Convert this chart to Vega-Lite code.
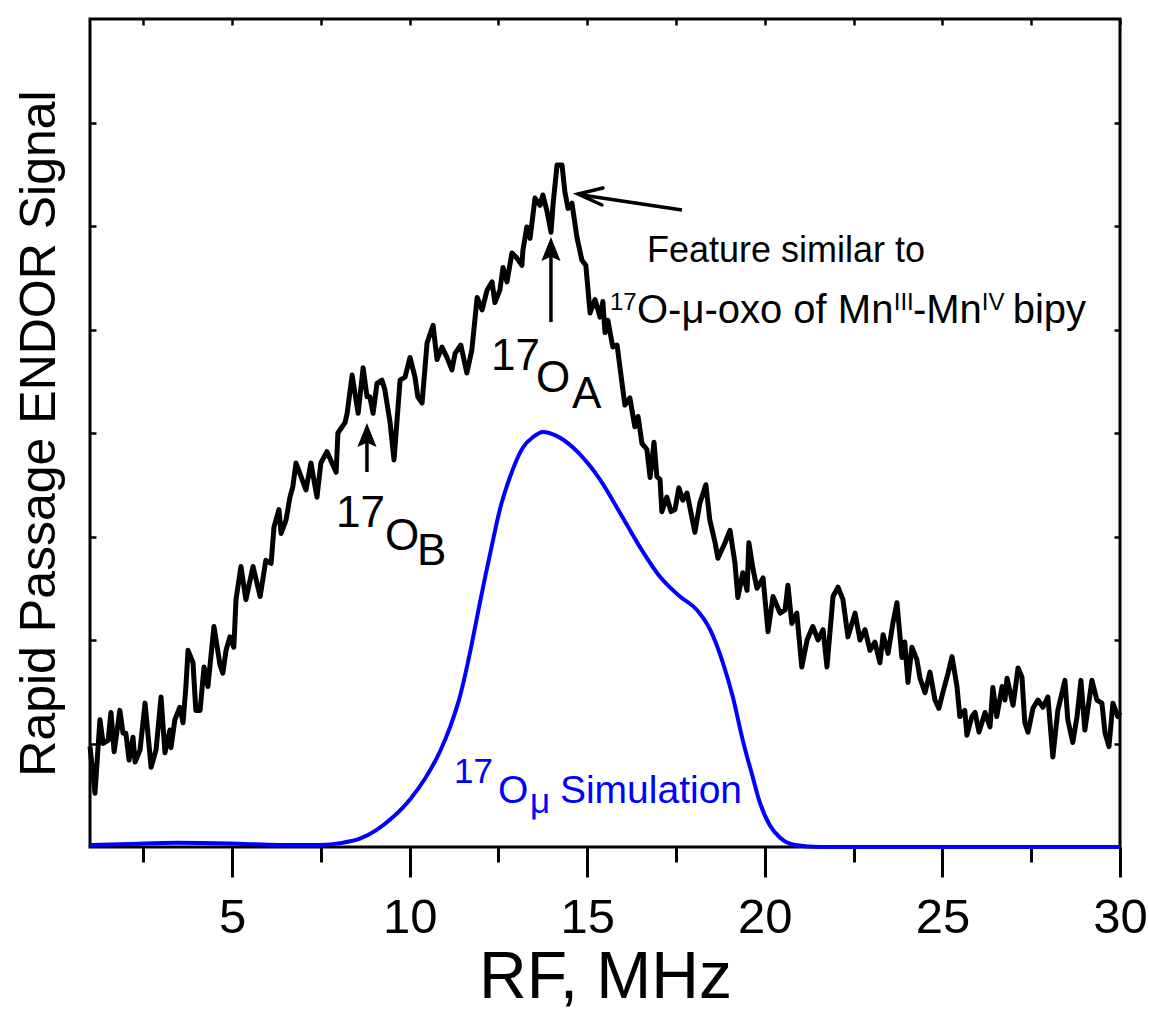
{
  "$schema": "https://vega.github.io/schema/vega-lite/v6.json",
  "width": 1030,
  "height": 828,
  "autosize": {"type": "none"},
  "padding": {"left": 90, "top": 19, "right": 29, "bottom": 164},
  "background": "white",
  "config": {
    "view": {"stroke": "black", "strokeWidth": 3},
    "font": "Liberation Sans",
    "axis": {"grid": false, "domain": false, "tickColor": "black", "labelColor": "black", "titleColor": "black", "titleFontWeight": "normal", "labelFont": "Liberation Sans", "titleFont": "Liberation Sans"}
  },
  "datasets": {
    "spectrum": [
      {"f":1.00,"s":0.97},{"f":1.14,"s":0.52},{"f":1.28,"s":1.23},{"f":1.37,"s":1.00},{"f":1.51,"s":1.03},{"f":1.59,"s":1.30},{"f":1.68,"s":0.92},{"f":1.84,"s":1.32},{"f":1.93,"s":1.10},{"f":2.01,"s":1.10},{"f":2.10,"s":0.84},{"f":2.21,"s":1.06},{"f":2.27,"s":0.82},{"f":2.41,"s":0.94},{"f":2.55,"s":1.39},{"f":2.72,"s":0.77},{"f":2.86,"s":0.94},{"f":3.00,"s":1.45},{"f":3.11,"s":0.91},{"f":3.25,"s":1.13},{"f":3.28,"s":0.96},{"f":3.39,"s":1.23},{"f":3.53,"s":1.35},{"f":3.62,"s":1.20},{"f":3.70,"s":1.55},{"f":3.76,"s":1.90},{"f":3.90,"s":1.78},{"f":3.98,"s":1.32},{"f":4.10,"s":1.32},{"f":4.21,"s":1.74},{"f":4.32,"s":1.55},{"f":4.49,"s":2.13},{"f":4.66,"s":1.76},{"f":4.74,"s":1.68},{"f":4.83,"s":1.90},{"f":4.94,"s":2.03},{"f":5.05,"s":1.93},{"f":5.11,"s":2.39},{"f":5.25,"s":2.71},{"f":5.39,"s":2.39},{"f":5.59,"s":2.71},{"f":5.79,"s":2.42},{"f":5.95,"s":2.77},{"f":6.10,"s":2.74},{"f":6.18,"s":3.09},{"f":6.32,"s":3.26},{"f":6.38,"s":3.03},{"f":6.52,"s":3.16},{"f":6.63,"s":3.38},{"f":6.71,"s":3.48},{"f":6.80,"s":3.71},{"f":7.08,"s":3.45},{"f":7.22,"s":3.71},{"f":7.39,"s":3.38},{"f":7.50,"s":3.71},{"f":7.67,"s":3.82},{"f":7.93,"s":3.62},{"f":7.98,"s":4.00},{"f":8.18,"s":4.10},{"f":8.24,"s":4.19},{"f":8.38,"s":4.56},{"f":8.55,"s":4.19},{"f":8.69,"s":4.63},{"f":8.80,"s":4.35},{"f":8.88,"s":4.35},{"f":8.97,"s":4.19},{"f":9.08,"s":4.48},{"f":9.22,"s":4.51},{"f":9.30,"s":4.42},{"f":9.45,"s":4.10},{"f":9.56,"s":3.74},{"f":9.73,"s":4.51},{"f":9.87,"s":4.54},{"f":10.01,"s":4.73},{"f":10.15,"s":4.54},{"f":10.23,"s":4.35},{"f":10.35,"s":4.29},{"f":10.49,"s":4.87},{"f":10.66,"s":5.04},{"f":10.77,"s":4.71},{"f":10.91,"s":4.83},{"f":11.05,"s":4.73},{"f":11.19,"s":4.61},{"f":11.28,"s":4.77},{"f":11.44,"s":4.85},{"f":11.61,"s":4.58},{"f":11.75,"s":4.80},{"f":11.90,"s":5.31},{"f":12.04,"s":5.19},{"f":12.18,"s":5.38},{"f":12.32,"s":5.46},{"f":12.40,"s":5.26},{"f":12.54,"s":5.38},{"f":12.63,"s":5.60},{"f":12.74,"s":5.46},{"f":12.88,"s":5.74},{"f":13.02,"s":5.69},{"f":13.16,"s":5.62},{"f":13.19,"s":5.77},{"f":13.30,"s":5.99},{"f":13.39,"s":5.88},{"f":13.53,"s":6.27},{"f":13.67,"s":6.20},{"f":13.75,"s":6.30},{"f":13.87,"s":6.14},{"f":13.98,"s":5.94},{"f":14.04,"s":6.22},{"f":14.15,"s":6.59},{"f":14.29,"s":6.59},{"f":14.37,"s":6.33},{"f":14.46,"s":6.17},{"f":14.57,"s":6.22},{"f":14.71,"s":5.89},{"f":14.85,"s":5.67},{"f":14.96,"s":5.62},{"f":15.08,"s":5.16},{"f":15.22,"s":5.29},{"f":15.36,"s":5.12},{"f":15.44,"s":5.27},{"f":15.50,"s":4.97},{"f":15.58,"s":5.09},{"f":15.72,"s":4.83},{"f":15.84,"s":4.85},{"f":15.98,"s":4.48},{"f":16.06,"s":4.27},{"f":16.20,"s":4.34},{"f":16.34,"s":4.06},{"f":16.43,"s":4.16},{"f":16.54,"s":3.90},{"f":16.68,"s":3.84},{"f":16.77,"s":3.57},{"f":16.88,"s":3.91},{"f":16.96,"s":3.58},{"f":17.05,"s":3.55},{"f":17.10,"s":3.24},{"f":17.24,"s":3.38},{"f":17.36,"s":3.24},{"f":17.47,"s":3.26},{"f":17.58,"s":3.47},{"f":17.69,"s":3.35},{"f":17.81,"s":3.42},{"f":17.92,"s":3.23},{"f":18.03,"s":3.04},{"f":18.17,"s":3.32},{"f":18.34,"s":3.50},{"f":18.45,"s":3.16},{"f":18.60,"s":2.94},{"f":18.68,"s":2.79},{"f":18.88,"s":2.94},{"f":19.02,"s":3.06},{"f":19.16,"s":2.74},{"f":19.24,"s":2.41},{"f":19.38,"s":2.65},{"f":19.50,"s":2.48},{"f":19.55,"s":2.94},{"f":19.67,"s":2.68},{"f":19.78,"s":2.50},{"f":19.95,"s":2.60},{"f":20.09,"s":2.08},{"f":20.23,"s":2.42},{"f":20.43,"s":2.26},{"f":20.57,"s":2.29},{"f":20.65,"s":2.53},{"f":20.76,"s":2.16},{"f":20.90,"s":2.26},{"f":21.04,"s":1.74},{"f":21.19,"s":2.00},{"f":21.35,"s":2.13},{"f":21.50,"s":2.00},{"f":21.64,"s":2.10},{"f":21.75,"s":1.74},{"f":21.92,"s":2.42},{"f":22.06,"s":2.51},{"f":22.20,"s":2.39},{"f":22.34,"s":2.03},{"f":22.54,"s":2.26},{"f":22.68,"s":2.00},{"f":22.82,"s":2.10},{"f":22.96,"s":1.90},{"f":23.10,"s":1.98},{"f":23.24,"s":1.78},{"f":23.33,"s":2.05},{"f":23.47,"s":1.87},{"f":23.61,"s":2.17},{"f":23.72,"s":2.36},{"f":23.86,"s":1.83},{"f":23.94,"s":1.98},{"f":24.03,"s":1.59},{"f":24.14,"s":1.93},{"f":24.28,"s":1.81},{"f":24.37,"s":1.63},{"f":24.51,"s":1.49},{"f":24.65,"s":1.69},{"f":24.79,"s":1.42},{"f":24.90,"s":1.34},{"f":25.01,"s":1.49},{"f":25.16,"s":1.68},{"f":25.27,"s":1.84},{"f":25.41,"s":1.55},{"f":25.49,"s":1.26},{"f":25.63,"s":1.32},{"f":25.69,"s":1.08},{"f":25.83,"s":1.26},{"f":25.92,"s":1.30},{"f":26.03,"s":1.11},{"f":26.20,"s":1.30},{"f":26.34,"s":1.16},{"f":26.42,"s":1.54},{"f":26.53,"s":1.26},{"f":26.68,"s":1.55},{"f":26.76,"s":1.42},{"f":26.82,"s":1.63},{"f":26.99,"s":1.37},{"f":27.13,"s":1.73},{"f":27.24,"s":1.64},{"f":27.32,"s":1.20},{"f":27.41,"s":1.11},{"f":27.55,"s":1.34},{"f":27.69,"s":1.42},{"f":27.83,"s":1.35},{"f":27.97,"s":1.45},{"f":28.11,"s":0.87},{"f":28.25,"s":1.32},{"f":28.45,"s":1.61},{"f":28.53,"s":1.23},{"f":28.67,"s":1.01},{"f":28.79,"s":1.26},{"f":28.90,"s":1.61},{"f":29.01,"s":1.13},{"f":29.21,"s":1.61},{"f":29.35,"s":1.42},{"f":29.49,"s":1.39},{"f":29.58,"s":1.10},{"f":29.69,"s":0.97},{"f":29.80,"s":1.39},{"f":29.94,"s":1.26},{"f":30.00,"s":1.30}
    ],
    "sim": [
      {"f":1.0,"s":0.02},{"f":2.13,"s":0.03},{"f":3.45,"s":0.04},{"f":4.94,"s":0.034},{"f":6.35,"s":0.02},{"f":7.48,"s":0.02},{"f":8.10,"s":0.04},{"f":8.60,"s":0.08},{"f":9.05,"s":0.16},{"f":9.50,"s":0.28},{"f":10.01,"s":0.46},{"f":10.43,"s":0.66},{"f":10.85,"s":0.92},{"f":11.14,"s":1.16},{"f":11.42,"s":1.46},{"f":11.70,"s":1.88},{"f":11.92,"s":2.26},{"f":12.12,"s":2.60},{"f":12.35,"s":2.97},{"f":12.54,"s":3.26},{"f":12.82,"s":3.57},{"f":13.19,"s":3.86},{"f":13.47,"s":3.96},{"f":13.75,"s":4.01},{"f":14.15,"s":3.97},{"f":14.60,"s":3.86},{"f":15.08,"s":3.68},{"f":15.36,"s":3.55},{"f":15.92,"s":3.23},{"f":16.48,"s":2.90},{"f":17.05,"s":2.61},{"f":17.61,"s":2.42},{"f":18.09,"s":2.29},{"f":18.46,"s":2.10},{"f":18.82,"s":1.78},{"f":19.10,"s":1.45},{"f":19.38,"s":1.03},{"f":19.64,"s":0.70},{"f":19.86,"s":0.43},{"f":20.14,"s":0.21},{"f":20.43,"s":0.09},{"f":20.85,"s":0.02},{"f":21.55,"s":0.0},{"f":30.0,"s":0.0}
    ],
    "shafts": [
      {"x":8.798,"y":3.623,"x2":8.798,"y2":4.0},
      {"x":13.978,"y":5.072,"x2":13.978,"y2":5.75},
      {"x":17.666,"y":6.155,"x2":14.85,"y2":6.30}
    ],
    "heads": [
      {"x":8.798,"y":4.097},
      {"x":13.978,"y":5.894}
    ],
    "chevron": [
      {"x":14.738,"y":6.309}
    ],
    "big": [
      {"x":12.29,"y":4.609,"t":"17"},
      {"x":13.556,"y":4.396,"t":"O"},
      {"x":14.569,"y":4.242,"t":"A"},
      {"x":7.925,"y":3.092,"t":"17"},
      {"x":9.305,"y":2.870,"t":"O"},
      {"x":10.206,"y":2.725,"t":"B"}
    ],
    "note1": [
      {"x":16.681,"y":5.652,"t":"Feature similar to"}
    ],
    "note": [
      {"x":16.40,"y":5.063,"t":"O-μ-oxo of Mn"},
      {"x":24.17,"y":5.063,"t":"-Mn"},
      {"x":26.98,"y":5.063,"t":"bipy"}
    ],
    "sup": [
      {"x":15.639,"y":5.189,"t":"17"},
      {"x":23.63,"y":5.189,"t":"III"},
      {"x":26.11,"y":5.189,"t":"IV"}
    ],
    "simbig": [
      {"x":12.486,"y":0.425,"t":"O"},
      {"x":14.231,"y":0.425,"t":"Simulation"}
    ],
    "simsmall": [
      {"x":11.247,"y":0.618,"t":"17"},
      {"x":13.387,"y":0.329,"t":"μ"}
    ]
  },
  "resolve": {"axis": {"x": "independent", "y": "independent"}},
  "layer": [
    {
      "data": {"name": "spectrum"},
      "mark": {"type": "line", "color": "black", "strokeWidth": 5, "strokeJoin": "round"},
      "encoding": {
        "x": {"field": "f", "type": "quantitative", "scale": {"domain": [1, 30], "nice": false, "zero": false},
          "axis": {"orient": "bottom", "values": [2.5,5,7.5,10,12.5,15,17.5,20,22.5,25,27.5,30], "title": "RF, MHz", "titleFontSize": 66, "titlePadding": 3, "labelFontSize": 49, "labelPadding": 16, "labelExpr": "datum.value % 5 === 0 ? datum.label : ''", "labelOverlap": false, "labelFlush": false, "tickWidth": 3, "tickSize": {"condition": {"test": "datum.value % 5 === 0", "value": 30}, "value": 15}}},
        "y": {"field": "s", "type": "quantitative", "scale": {"domain": [0, 8], "nice": false, "zero": false},
          "axis": {"orient": "left", "values": [1,2,3,4,5,6,7], "labels": false, "tickSize": -6, "tickWidth": 2.5, "title": "Rapid Passage ENDOR Signal", "titleFontSize": 50, "titlePadding": 24}}
      }
    },
    {
      "data": {"name": "sim"},
      "mark": {"type": "line", "color": "#0000ff", "strokeWidth": 4, "interpolate": "monotone"},
      "encoding": {
        "x": {"field": "f", "type": "quantitative", "scale": {"domain": [1, 30], "nice": false, "zero": false},
          "axis": {"orient": "top", "values": [2.5,5,7.5,10,12.5,15,17.5,20,22.5,25,27.5,30], "labels": false, "tickSize": -6, "tickWidth": 2.5, "title": null}},
        "y": {"field": "s", "type": "quantitative", "scale": {"domain": [0, 8], "nice": false, "zero": false},
          "axis": {"orient": "right", "values": [1,2,3,4,5,6,7], "labels": false, "tickSize": -6, "tickWidth": 2.5, "title": null}}
      }
    },
    {
      "data": {"name": "shafts"},
      "mark": {"type": "rule", "color": "black", "strokeWidth": 3.5},
      "encoding": {
        "x": {"field": "x", "type": "quantitative", "axis": null},
        "x2": {"field": "x2"},
        "y": {"field": "y", "type": "quantitative", "axis": null},
        "y2": {"field": "y2"}
      }
    },
    {
      "data": {"name": "heads"},
      "mark": {"type": "point", "shape": "M0,0L0.4,1L0,0.82L-0.4,1Z", "size": 2304, "filled": true, "color": "black", "opacity": 1},
      "encoding": {
        "x": {"field": "x", "type": "quantitative", "axis": null},
        "y": {"field": "y", "type": "quantitative", "axis": null}
      }
    },
    {
      "data": {"name": "chevron"},
      "mark": {"type": "point", "shape": "M1,-0.24L0,0L0.96,0.44", "size": 2500, "filled": false, "color": "black", "strokeWidth": 3.5, "strokeCap": "round", "opacity": 1},
      "encoding": {
        "x": {"field": "x", "type": "quantitative", "axis": null},
        "y": {"field": "y", "type": "quantitative", "axis": null}
      }
    },
    {
      "data": {"name": "big"},
      "mark": {"type": "text", "align": "left", "baseline": "alphabetic", "fontSize": 44, "font": "Liberation Sans", "color": "black"},
      "encoding": {
        "x": {"field": "x", "type": "quantitative", "axis": null},
        "y": {"field": "y", "type": "quantitative", "axis": null},
        "text": {"field": "t"}
      }
    },
    {
      "data": {"name": "note1"},
      "mark": {"type": "text", "align": "left", "baseline": "alphabetic", "fontSize": 36, "font": "Liberation Sans", "color": "black"},
      "encoding": {
        "x": {"field": "x", "type": "quantitative", "axis": null},
        "y": {"field": "y", "type": "quantitative", "axis": null},
        "text": {"field": "t"}
      }
    },
    {
      "data": {"name": "note"},
      "mark": {"type": "text", "align": "left", "baseline": "alphabetic", "fontSize": 40, "font": "Liberation Sans", "color": "black"},
      "encoding": {
        "x": {"field": "x", "type": "quantitative", "axis": null},
        "y": {"field": "y", "type": "quantitative", "axis": null},
        "text": {"field": "t"}
      }
    },
    {
      "data": {"name": "sup"},
      "mark": {"type": "text", "align": "left", "baseline": "alphabetic", "fontSize": 24, "font": "Liberation Sans", "color": "black"},
      "encoding": {
        "x": {"field": "x", "type": "quantitative", "axis": null},
        "y": {"field": "y", "type": "quantitative", "axis": null},
        "text": {"field": "t"}
      }
    },
    {
      "data": {"name": "simbig"},
      "mark": {"type": "text", "align": "left", "baseline": "alphabetic", "fontSize": 39, "font": "Liberation Sans", "color": "#0000ff"},
      "encoding": {
        "x": {"field": "x", "type": "quantitative", "axis": null},
        "y": {"field": "y", "type": "quantitative", "axis": null},
        "text": {"field": "t"}
      }
    },
    {
      "data": {"name": "simsmall"},
      "mark": {"type": "text", "align": "left", "baseline": "alphabetic", "fontSize": 35, "font": "Liberation Sans", "color": "#0000ff"},
      "encoding": {
        "x": {"field": "x", "type": "quantitative", "axis": null},
        "y": {"field": "y", "type": "quantitative", "axis": null},
        "text": {"field": "t"}
      }
    }
  ]
}
